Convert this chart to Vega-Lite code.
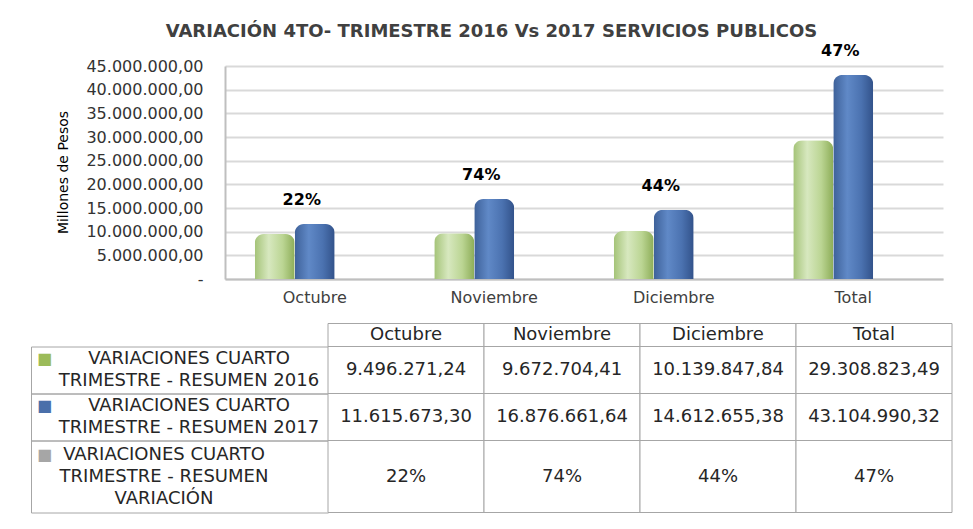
{
  "$schema": "https://vega.github.io/schema/vega-lite/v6.json",
  "background": "white",
  "padding": {"left": 30, "top": 22, "right": 20, "bottom": 14},
  "datasets": {
    "meses": [
      {"mes": "Octubre", "v2016": 9496271.24, "v2017": 11615673.30, "variacion": 0.22},
      {"mes": "Noviembre", "v2016": 9672704.41, "v2017": 16876661.64, "variacion": 0.74},
      {"mes": "Diciembre", "v2016": 10139847.84, "v2017": 14612655.38, "variacion": 0.44},
      {"mes": "Total", "v2016": 29308823.49, "v2017": 43104990.32, "variacion": 0.47}
    ],
    "series": [
      {"serie": "v2016", "nombre": "VARIACIONES CUARTO\nTRIMESTRE - RESUMEN 2016"},
      {"serie": "v2017", "nombre": "VARIACIONES CUARTO\nTRIMESTRE - RESUMEN 2017"},
      {"serie": "variacion", "nombre": "VARIACIONES CUARTO\nTRIMESTRE - RESUMEN\nVARIACIÓN"}
    ]
  },
  "title": {
    "text": "VARIACIÓN 4TO- TRIMESTRE 2016 Vs 2017 SERVICIOS PUBLICOS",
    "fontSize": 18,
    "fontWeight": "bold",
    "color": "#404040",
    "anchor": "middle",
    "offset": 2
  },
  "bounds": "full",
  "spacing": 16.5,
  "vconcat": [
    {
      "width": 912,
      "height": 213,
      "data": {"name": "meses"},
      "transform": [
        {"fold": ["v2016", "v2017"], "as": ["serie", "valor"]}
      ],
      "encoding": {
        "x": {
          "field": "mes",
          "type": "nominal",
          "sort": ["Octubre", "Noviembre", "Diciembre", "Total"],
          "scale": {"range": [194, 912], "paddingInner": 0.3315, "paddingOuter": 0.16575},
          "axis": {
            "title": null,
            "labelAngle": 0,
            "ticks": false,
            "labelPadding": 10.5,
            "labelFontSize": 16,
            "labelColor": "#404040",
            "domainColor": "#BFBFBF",
            "domainWidth": 2
          }
        },
        "y": {
          "field": "valor",
          "type": "quantitative",
          "title": "Millones de Pesos",
          "scale": {"domain": [0, 45000000], "nice": false},
          "axis": {
            "values": [0, 5000000, 10000000, 15000000, 20000000, 25000000, 30000000, 35000000, 40000000, 45000000],
            "tickCount": 10,
            "format": ",.2f",
            "labelExpr": "datum.value === 0 ? '-\u00a0\u00a0' : datum.label",
            "labelOverlap": false,
            "labelFontSize": 16,
            "labelColor": "#333333",
            "offset": -194,
            "grid": true,
            "gridColor": "#D9D9D9",
            "gridWidth": 2,
            "domainColor": "#BFBFBF",
            "domainWidth": 2,
            "ticks": false,
            "labelPadding": 22,
            "titleX": -158,
            "titleY": 106,
            "titleAngle": -90,
            "titleAlign": "center",
            "titleBaseline": "alphabetic",
            "titleFontSize": 14,
            "titleFontWeight": "normal",
            "titleColor": "#000000"
          }
        }
      },
      "layer": [
        {
          "transform": [{"filter": "datum.serie === 'v2016'"}],
          "mark": {
            "type": "bar",
            "cornerRadiusTopLeft": 9,
            "cornerRadiusTopRight": 9,
            "fill": {
              "gradient": "linear",
              "x1": 0, "y1": 0, "x2": 1, "y2": 0,
              "stops": [
                {"offset": 0, "color": "#A4C377"},
                {"offset": 0.35, "color": "#D7E8BF"},
                {"offset": 0.7, "color": "#BBD593"},
                {"offset": 1, "color": "#8DAD58"}
              ]
            }
          },
          "encoding": {
            "xOffset": {"field": "serie", "type": "nominal", "scale": {"domain": ["v2016", "v2017", "variacion"], "paddingInner": 0, "paddingOuter": 0}}
          }
        },
        {
          "transform": [{"filter": "datum.serie === 'v2017'"}],
          "mark": {
            "type": "bar",
            "cornerRadiusTopLeft": 9,
            "cornerRadiusTopRight": 9,
            "fill": {
              "gradient": "linear",
              "x1": 0, "y1": 0, "x2": 1, "y2": 0,
              "stops": [
                {"offset": 0, "color": "#3E6199"},
                {"offset": 0.35, "color": "#6089C7"},
                {"offset": 0.7, "color": "#4B72B0"},
                {"offset": 1, "color": "#32528A"}
              ]
            }
          },
          "encoding": {
            "xOffset": {"field": "serie", "type": "nominal", "scale": {"domain": ["v2016", "v2017", "variacion"], "paddingInner": 0, "paddingOuter": 0}}
          }
        },
        {
          "transform": [{"filter": "datum.serie === 'v2017'"}],
          "mark": {"type": "text", "fontSize": 16, "fontWeight": "bold", "color": "#000000", "dx": -13, "dy": -24, "baseline": "middle"},
          "encoding": {
            "text": {"field": "variacion", "type": "quantitative", "format": ".0%"}
          }
        }
      ]
    },
    {
      "columns": 2,
      "spacing": 0,
      "bounds": "flush",
      "align": "each",
      "concat": [
        {
          "width": 297, "height": 23,
          "data": {"values": []},
          "mark": "text",
          "view": {"stroke": null}
        },
        {
          "width": 624, "height": 23,
          "data": {"name": "meses"},
          "encoding": {"x": {"field": "mes", "type": "nominal", "sort": ["Octubre", "Noviembre", "Diciembre", "Total"], "axis": null, "scale": {"paddingInner": 0, "paddingOuter": 0}}},
          "layer": [
            {"mark": {"type": "rect", "fill": "white", "stroke": "#A6A6A6", "strokeWidth": 1}, "encoding": {"y": {"value": 0}, "y2": {"value": "height"}}},
            {"mark": {"type": "text", "fontSize": 18, "color": "#262626"}, "encoding": {"text": {"field": "mes", "type": "nominal"}}}
          ]
        },
        {
          "width": 297, "height": 47,
          "view": {"stroke": "#A6A6A6"},
          "data": {"name": "series"},
          "transform": [{"filter": "datum.serie === 'v2016'"}],
          "layer": [
            {"mark": {"type": "text", "lineBreak": "\n", "lineHeight": 22, "fontSize": 18, "color": "#262626", "dx": 9.5, "dy": -11}, "encoding": {"text": {"field": "nombre", "type": "nominal"}}},
            {"mark": {"type": "text", "text": "■", "fontSize": 16, "color": "#9BBB59", "dx": -135, "dy": -11}, "encoding": {}}
          ]
        },
        {
          "width": 624, "height": 47,
          "data": {"name": "meses"},
          "encoding": {"x": {"field": "mes", "type": "nominal", "sort": ["Octubre", "Noviembre", "Diciembre", "Total"], "axis": null, "scale": {"paddingInner": 0, "paddingOuter": 0}}},
          "layer": [
            {"mark": {"type": "rect", "fill": "white", "stroke": "#A6A6A6", "strokeWidth": 1}, "encoding": {"y": {"value": 0}, "y2": {"value": "height"}}},
            {"mark": {"type": "text", "fontSize": 18, "color": "#262626"}, "encoding": {"text": {"field": "v2016", "type": "quantitative", "format": ",.2f"}}}
          ]
        },
        {
          "width": 297, "height": 47,
          "view": {"stroke": "#A6A6A6"},
          "data": {"name": "series"},
          "transform": [{"filter": "datum.serie === 'v2017'"}],
          "layer": [
            {"mark": {"type": "text", "lineBreak": "\n", "lineHeight": 22, "fontSize": 18, "color": "#262626", "dx": 9.5, "dy": -11}, "encoding": {"text": {"field": "nombre", "type": "nominal"}}},
            {"mark": {"type": "text", "text": "■", "fontSize": 16, "color": "#4A6FAA", "dx": -135, "dy": -11}, "encoding": {}}
          ]
        },
        {
          "width": 624, "height": 47,
          "data": {"name": "meses"},
          "encoding": {"x": {"field": "mes", "type": "nominal", "sort": ["Octubre", "Noviembre", "Diciembre", "Total"], "axis": null, "scale": {"paddingInner": 0, "paddingOuter": 0}}},
          "layer": [
            {"mark": {"type": "rect", "fill": "white", "stroke": "#A6A6A6", "strokeWidth": 1}, "encoding": {"y": {"value": 0}, "y2": {"value": "height"}}},
            {"mark": {"type": "text", "fontSize": 18, "color": "#262626"}, "encoding": {"text": {"field": "v2017", "type": "quantitative", "format": ",.2f"}}}
          ]
        },
        {
          "width": 297, "height": 72,
          "view": {"stroke": "#A6A6A6"},
          "data": {"name": "series"},
          "transform": [{"filter": "datum.serie === 'variacion'"}],
          "layer": [
            {"mark": {"type": "text", "lineBreak": "\n", "lineHeight": 22, "fontSize": 18, "color": "#262626", "dx": -15.5, "dy": -22}, "encoding": {"text": {"field": "nombre", "type": "nominal"}}},
            {"mark": {"type": "text", "text": "■", "fontSize": 16, "color": "#A6A6A6", "dx": -135, "dy": -22}, "encoding": {}}
          ]
        },
        {
          "width": 624, "height": 72,
          "data": {"name": "meses"},
          "encoding": {"x": {"field": "mes", "type": "nominal", "sort": ["Octubre", "Noviembre", "Diciembre", "Total"], "axis": null, "scale": {"paddingInner": 0, "paddingOuter": 0}}},
          "layer": [
            {"mark": {"type": "rect", "fill": "white", "stroke": "#A6A6A6", "strokeWidth": 1}, "encoding": {"y": {"value": 0}, "y2": {"value": "height"}}},
            {"mark": {"type": "text", "fontSize": 18, "color": "#262626"}, "encoding": {"text": {"field": "variacion", "type": "quantitative", "format": ".0%"}}}
          ]
        }
      ]
    }
  ],
  "config": {
    "font": "DejaVu Sans",
    "view": {"stroke": null},
    "locale": {"number": {"decimal": ",", "thousands": ".", "grouping": [3], "currency": ["$", ""]}}
  }
}
